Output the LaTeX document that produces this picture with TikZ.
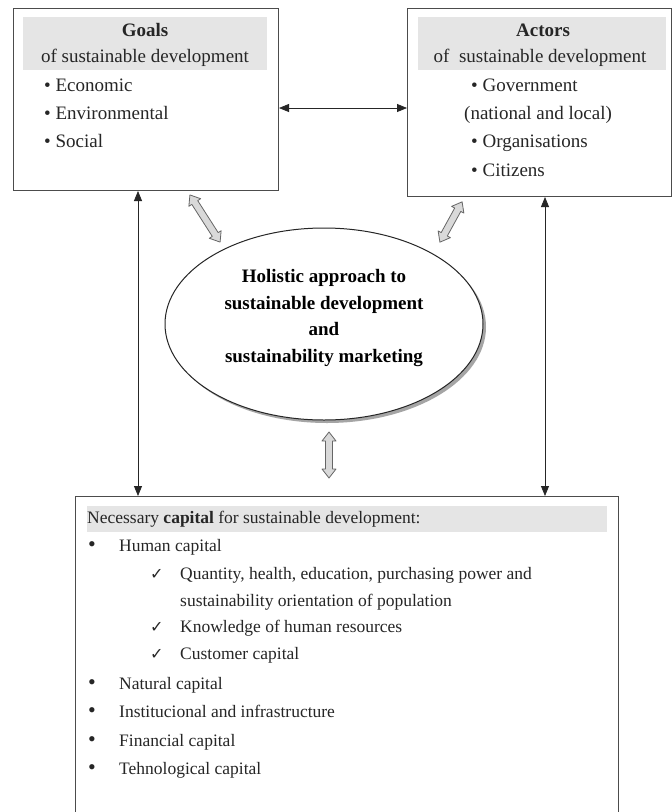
\documentclass[tikz,border=0pt]{standalone}
\usepackage{fontspec}
\setmainfont{Liberation Serif}
\newfontfamily\symfont{DejaVu Sans}
\usetikzlibrary{arrows.meta,shapes.geometric,shadows}

\newcommand\blockarr[5]{% name, x, y, angle, length
  \begin{scope}[shift={(#2,#3)}, rotate=#4]
    \draw[blockstyle] (-#5/2,0) -- (-#5/2+9,7) -- (-#5/2+9,3.5) -- (#5/2-9,3.5) -- (#5/2-9,7) -- (#5/2,0)
      -- (#5/2-9,-7) -- (#5/2-9,-3.5) -- (-#5/2+9,-3.5) -- (-#5/2+9,-7) -- cycle;
    \coordinate (#1) at (0,0);
  \end{scope}}

\begin{document}
\begin{tikzpicture}[x=1pt,y=-1pt,
  box/.style={draw=black!70, line width=1pt, fill=white},
  band/.style={fill=black!10, draw=none},
  ttext/.style={font=\fontsize{19}{22}\selectfont, inner sep=0pt, text height=13pt, text depth=4pt, text=black!85},
  tbold/.style={ttext, font=\fontsize{19}{22}\selectfont\bfseries},
  btext/.style={font=\fontsize{17.5}{20}\selectfont, inner sep=0pt, text height=12pt, text depth=4pt, text=black!85},
  bul/.style={btext, font=\fontsize{22}{20}\selectfont},
  chk/.style={btext, font=\symfont\fontsize{16}{18}\selectfont},
  thinarrow/.style={line width=0.8pt, black!85, {Triangle[length=10pt,width=8pt]}-{Triangle[length=10pt,width=8pt]}},
  blockstyle/.style={draw=black!60, fill=black!15, line width=0.8pt, line join=round}
]
\useasboundingbox (0,0) rectangle (672,812);
\fill[white] (0,0) rectangle (672,812);

% ---------- Goals box ----------
\node[box, anchor=north west, minimum width=265pt, minimum height=182pt] (goals) at (13,8) {};
\fill[band] (23,17) rectangle (267,70);
\node[tbold] (gt1) at (145,32) {Goals};
\node[ttext] (gt2) at (145,58) {of sustainable development};
\node[ttext, anchor=west] (gb1) at (44,87) {• Economic};
\node[ttext, anchor=west] (gb2) at (44,115) {• Environmental};
\node[ttext, anchor=west] (gb3) at (44,143) {• Social};

% ---------- Actors box ----------
\node[box, anchor=north west, minimum width=264pt, minimum height=188pt] (actors) at (407,8) {};
\fill[band] (418,17) rectangle (666,70);
\node[tbold] (at1) at (543,32) {Actors};
\node[ttext] (at2) at (540,58) {of\ \ sustainable development};
\node[ttext, anchor=west] (ab1) at (471,87) {• Government};
\node[ttext, anchor=west] (ab2) at (464,115) {(national and local)};
\node[ttext, anchor=west] (ab3) at (471,143) {• Organisations};
\node[ttext, anchor=west] (ab4) at (471,172) {• Citizens};

% ---------- Ellipse ----------
\node[ellipse, draw=black!85, line width=1pt, fill=white, minimum width=318pt, minimum height=192pt,
      drop shadow={shadow xshift=3pt, shadow yshift=-3pt, fill=black!70}] (ell) at (324,324) {};
\node[align=center, inner sep=0pt, font=\fontsize{19}{26.7}\selectfont\bfseries] (elltext) at (324,318)
  {Holistic approach to\\ sustainable development\\ and\\ sustainability marketing};

% ---------- Bottom box ----------
\node[box, anchor=north west, minimum width=543pt, minimum height=320pt] (cap) at (75,496) {};
\fill[band] (87,506) rectangle (607,532);
\node[btext, anchor=west] (c0) at (87,519) {Necessary \textbf{capital} for sustainable development:};
\node[bul, anchor=west] (c1b) at (88,547) {•};
\node[btext, anchor=west] (c1) at (119,547) {Human capital};
\node[chk, anchor=west] (c2b) at (150,575) {✓};
\node[btext, anchor=west] (c2) at (180,575) {Quantity, health, education, purchasing power and};
\node[btext, anchor=west] (c3) at (180,602) {sustainability orientation of population};
\node[chk, anchor=west] (c4b) at (150,628) {✓};
\node[btext, anchor=west] (c4) at (180,628) {Knowledge of human resources};
\node[chk, anchor=west] (c5b) at (150,655) {✓};
\node[btext, anchor=west] (c5) at (180,655) {Customer capital};
\node[bul, anchor=west] (c6b) at (88,685) {•};
\node[btext, anchor=west] (c6) at (119,685) {Natural capital};
\node[bul, anchor=west] (c7b) at (88,713) {•};
\node[btext, anchor=west] (c7) at (119,713) {Institucional and infrastructure};
\node[bul, anchor=west] (c8b) at (88,742) {•};
\node[btext, anchor=west] (c8) at (119,742) {Financial capital};
\node[bul, anchor=west] (c9b) at (88,770) {•};
\node[btext, anchor=west] (c9) at (119,770) {Tehnological capital};

% ---------- Connectors ----------
\draw[thinarrow] (goals.east |- 0,108) -- (actors.west |- 0,108);
\draw[thinarrow] (goals.south -| 138,0) -- (cap.north -| 138,0);
\draw[thinarrow] (actors.south -| 545,0) -- (cap.north -| 545,0);

% ---------- Block arrows ----------
\blockarr{ba1}{205}{218.5}{-57.4}{56}
\blockarr{ba2}{451}{222}{61.2}{46}
\blockarr{ba3}{329}{455}{90}{46}
\end{tikzpicture}
\end{document}
